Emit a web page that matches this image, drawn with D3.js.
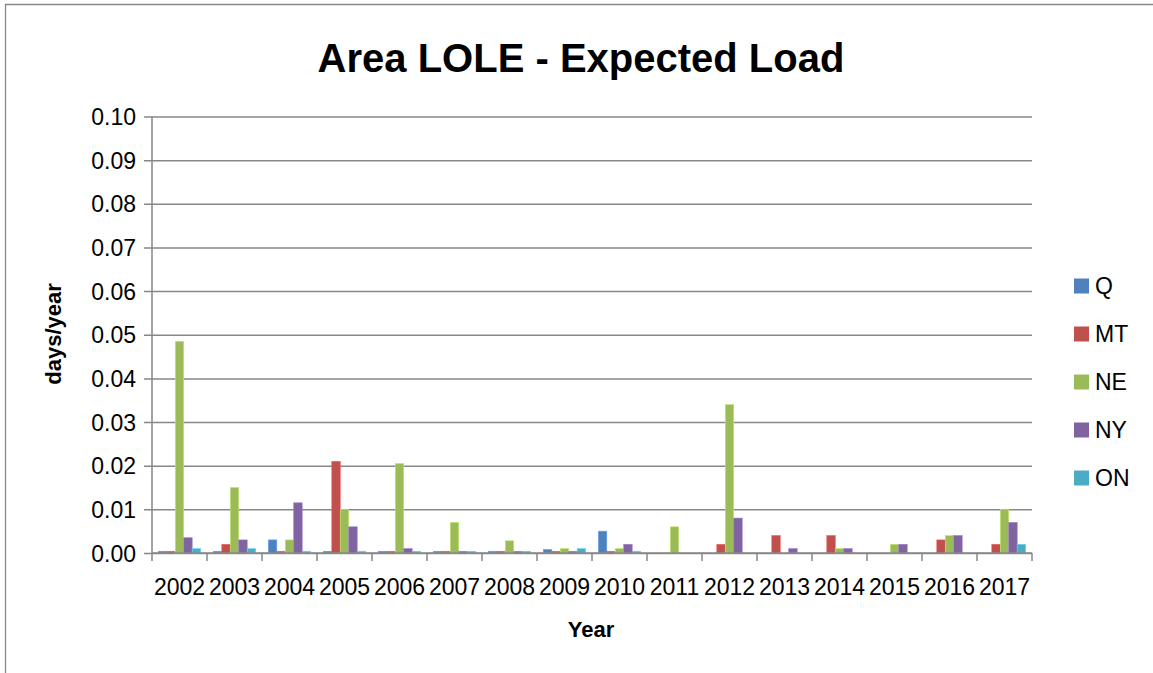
<!DOCTYPE html>
<html>
<head>
<meta charset="utf-8">
<script src="https://cdn.jsdelivr.net/npm/d3@7"></script>
<style>
    body { margin: 0; background: #fff; }
    svg { display: block; font-family: "Liberation Sans", Arial, sans-serif; }
</style>
</head>
<body>
<div id="chart"></div>
<script>
// ===========================
// Area LOLE - Expected Load
// Grouped bars, days/year by area
// ===========================

const years = ['2002', '2003', '2004', '2005', '2006', '2007', '2008', '2009',
               '2010', '2011', '2012', '2013', '2014', '2015', '2016', '2017'];
const seriesNames = ['Q', 'MT', 'NE', 'NY', 'ON'];
const seriesColors = ['#4f81bd', '#c0504d', '#9bbb59', '#8064a2', '#4bacc6'];

const valuesQ  = [0.0004, 0.0004, 0.003, 0.0004, 0.0004, 0.0004, 0.0004, 0.0008, 0.005, 0, 0, 0, 0, 0, 0, 0];
const valuesMT = [0.0004, 0.002, 0.0004, 0.021, 0.0004, 0.0004, 0.0004, 0.0004, 0.0004, 0, 0.002, 0.004, 0.004, 0, 0.003, 0.002];
const valuesNE = [0.0485, 0.015, 0.003, 0.010, 0.0205, 0.007, 0.0028, 0.001, 0.001, 0.006, 0.034, 0, 0.001, 0.002, 0.004, 0.010];
const valuesNY = [0.0035, 0.003, 0.0115, 0.006, 0.001, 0.0004, 0.0004, 0.0004, 0.002, 0, 0.008, 0.001, 0.001, 0.002, 0.004, 0.007];
const valuesON = [0.001, 0.001, 0.0004, 0.0004, 0.0004, 0.0004, 0.0004, 0.001, 0.0004, 0, 0, 0, 0, 0, 0, 0.002];

const yTicks = [0, 0.01, 0.02, 0.03, 0.04, 0.05, 0.06, 0.07, 0.08, 0.09, 0.10];

const seriesValues = [valuesQ, valuesMT, valuesNE, valuesNY, valuesON];

const width = 1153, height = 673;
const margin = { top: 116.5, right: 121, bottom: 120, left: 152 };
const innerWidth = width - margin.left - margin.right;
const innerHeight = 553 - margin.top;
const gridColor = '#878787';

const svg = d3.select('#chart')
    .append('svg')
    .attr('width', width)
    .attr('height', height);

// chart frame: only the left and top edges fall inside the picture
svg.append('path')
    .attr('d', `M5.5,${height} V4.5 H${width}`)
    .attr('fill', 'none')
    .attr('stroke', gridColor)
    .attr('stroke-width', 1.3);

svg.append('text')
    .attr('x', 581)
    .attr('y', 72)
    .attr('text-anchor', 'middle')
    .style('font-size', '40px')
    .style('font-weight', 'bold')
    .text('Area LOLE - Expected Load');

const g = svg.append('g')
    .attr('transform', `translate(${margin.left},${margin.top})`);

const x0 = d3.scaleBand()
    .domain(years)
    .range([0, innerWidth])
    .paddingInner(1.5 / 6.5)
    .paddingOuter(0.75 / 6.5);

const x1 = d3.scaleBand()
    .domain(seriesNames)
    .range([0, x0.bandwidth()]);

const y = d3.scaleLinear()
    .domain([0, 0.10])
    .range([innerHeight, 0]);

// gridlines + y axis
const yAxis = g.append('g')
    .attr('font-size', null)
    .attr('font-family', null)
    .call(d3.axisLeft(y).tickValues(yTicks).tickSize(-innerWidth).tickSizeOuter(0).tickPadding(16)
        .tickFormat(d3.format('.2f')));
yAxis.attr('font-size', null).attr('font-family', null);
yAxis.select('.domain').remove();
yAxis.selectAll('.tick line')
    .attr('x1', -8)
    .attr('stroke', gridColor)
    .attr('stroke-width', 1.5);
yAxis.selectAll('.tick text')
    .attr('dy', '0.35em')
    .style('font-size', '23px')
    .attr('fill', '#000');

g.append('line')
    .attr('x1', 0).attr('x2', 0)
    .attr('y1', 0).attr('y2', innerHeight)
    .attr('stroke', gridColor)
    .attr('stroke-width', 1.5);

// bars
const groups = g.selectAll('.year')
    .data(years)
    .join('g')
    .attr('class', 'year')
    .attr('transform', d => `translate(${x0(d)},0)`);

groups.selectAll('rect')
    .data((d, i) => seriesNames.map((s, k) => ({ series: s, value: seriesValues[k][i], color: seriesColors[k] })))
    .join('rect')
    .attr('x', d => x1(d.series))
    .attr('y', d => y(d.value))
    .attr('width', x1.bandwidth())
    .attr('height', d => innerHeight - y(d.value))
    .attr('fill', d => d.color)
    .attr('stroke', d => d3.color(d.color).brighter(0.6))
    .attr('stroke-width', 0.6);

// x axis with boundary ticks
const step = x0.step();
const xAxis = g.append('g')
    .attr('transform', `translate(0,${innerHeight})`);

xAxis.append('line')
    .attr('x1', 0).attr('x2', innerWidth)
    .attr('stroke', gridColor)
    .attr('stroke-width', 1.5);

xAxis.selectAll('.bound')
    .data(d3.range(years.length + 1))
    .join('line')
    .attr('class', 'bound')
    .attr('x1', i => i * step).attr('x2', i => i * step)
    .attr('y1', 0).attr('y2', 8)
    .attr('stroke', gridColor)
    .attr('stroke-width', 1.5);

xAxis.selectAll('.label')
    .data(years)
    .join('text')
    .attr('class', 'label')
    .attr('x', d => x0(d) + x0.bandwidth() / 2)
    .attr('y', 42)
    .attr('text-anchor', 'middle')
    .style('font-size', '23px')
    .text(d => d);

svg.append('text')
    .attr('x', 591)
    .attr('y', 637)
    .attr('text-anchor', 'middle')
    .style('font-size', '22px')
    .style('font-weight', 'bold')
    .text('Year');

svg.append('text')
    .attr('transform', 'translate(61,334) rotate(-90)')
    .attr('text-anchor', 'middle')
    .style('font-size', '22px')
    .style('font-weight', 'bold')
    .text('days/year');

// legend
const legend = svg.append('g')
    .attr('transform', 'translate(1074,286)');

seriesNames.forEach((name, i) => {
    legend.append('rect')
        .attr('x', 0)
        .attr('y', i * 48 - 7.5)
        .attr('width', 15)
        .attr('height', 15)
        .attr('fill', seriesColors[i]);
    legend.append('text')
        .attr('x', 21)
        .attr('y', i * 48 + 8)
        .style('font-size', '23px')
        .text(name);
});
</script>
</body>
</html>
